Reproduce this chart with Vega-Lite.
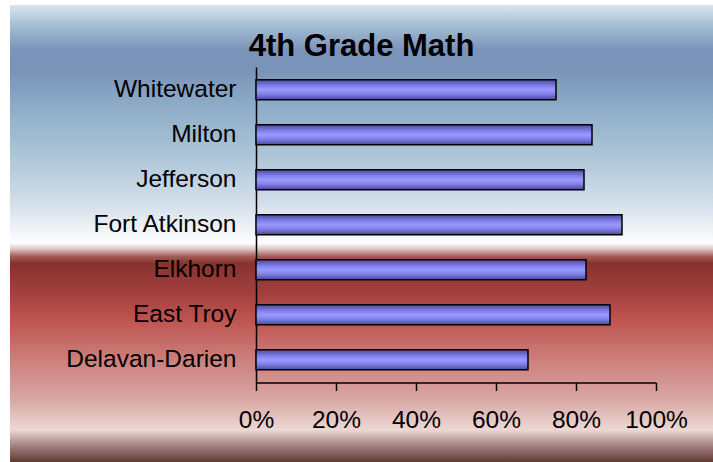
{
  "$schema": "https://vega.github.io/schema/vega-lite/v6.json",
  "width": 703,
  "height": 457,
  "autosize": {"type": "none"},
  "padding": {"left": 10, "top": 5, "right": 0, "bottom": 0},
  "background": "white",
  "view": {
    "stroke": null,
    "fill": {
      "gradient": "linear", "x1": 0, "y1": 0, "x2": 0, "y2": 1,
      "stops": [
        {"offset": 0, "color": "#d9e6f0"},
        {"offset": 0.044, "color": "#a5bfd3"},
        {"offset": 0.098, "color": "#7b94b9"},
        {"offset": 0.142, "color": "#7a93b9"},
        {"offset": 0.208, "color": "#89a8c5"},
        {"offset": 0.317, "color": "#a8c3d5"},
        {"offset": 0.426, "color": "#d0dce8"},
        {"offset": 0.499, "color": "#f2f6f9"},
        {"offset": 0.521, "color": "#fdfeff"},
        {"offset": 0.534, "color": "#ddc6c4"},
        {"offset": 0.55, "color": "#a65c58"},
        {"offset": 0.565, "color": "#87322e"},
        {"offset": 0.624, "color": "#9f3f3c"},
        {"offset": 0.689, "color": "#bf534f"},
        {"offset": 0.755, "color": "#c97571"},
        {"offset": 0.864, "color": "#d8a8a4"},
        {"offset": 0.93, "color": "#ecd8d4"},
        {"offset": 0.958, "color": "#b09090"},
        {"offset": 1, "color": "#603830"}
      ]
    }
  },
  "title": {
    "text": "4th Grade Math",
    "font": "Liberation Sans",
    "fontSize": 31,
    "fontWeight": "bold",
    "color": "black",
    "anchor": "middle",
    "frame": "group",
    "offset": -58
  },
  "data": {
    "values": [
      {"school": "Whitewater", "value": 0.75},
      {"school": "Milton", "value": 0.84},
      {"school": "Jefferson", "value": 0.82},
      {"school": "Fort Atkinson", "value": 0.915},
      {"school": "Elkhorn", "value": 0.825},
      {"school": "East Troy", "value": 0.885},
      {"school": "Delavan-Darien", "value": 0.68}
    ]
  },
  "mark": {
    "type": "bar",
    "stroke": "black",
    "strokeWidth": 1.5,
    "fill": {
      "gradient": "linear", "x1": 0, "y1": 0, "x2": 0, "y2": 1,
      "stops": [
        {"offset": 0, "color": "#4a4a9e"},
        {"offset": 0.3, "color": "#7f7fe6"},
        {"offset": 0.5, "color": "#9999ff"},
        {"offset": 0.7, "color": "#8383ea"},
        {"offset": 1, "color": "#4a4a9e"}
      ]
    }
  },
  "encoding": {
    "y": {
      "field": "school",
      "type": "nominal",
      "sort": ["Whitewater", "Milton", "Jefferson", "Fort Atkinson", "Elkhorn", "East Troy", "Delavan-Darien"],
      "scale": {"range": [62, 377.5], "paddingInner": 0.556, "paddingOuter": 0.283},
      "axis": {
        "title": null,
        "offset": -246,
        "ticks": false,
        "tickSize": 0,
        "domainColor": "black",
        "domainWidth": 1.5,
        "labelFont": "Liberation Sans",
        "labelFontSize": 24.5,
        "labelColor": "black",
        "labelPadding": 20,
        "grid": false
      }
    },
    "x": {
      "field": "value",
      "type": "quantitative",
      "scale": {"domain": [0, 1], "range": [246, 646], "nice": false},
      "axis": {
        "title": null,
        "offset": -79.5,
        "values": [0, 0.2, 0.4, 0.6, 0.8, 1],
        "format": ".0%",
        "domainColor": "black",
        "domainWidth": 1.5,
        "tickColor": "black",
        "tickWidth": 1.5,
        "tickSize": 8,
        "labelFont": "Liberation Sans",
        "labelFontSize": 24.5,
        "labelColor": "black",
        "labelPadding": 18,
        "labelFlush": false,
        "grid": false
      }
    }
  },
  "config": {"view": {"stroke": null}}
}
